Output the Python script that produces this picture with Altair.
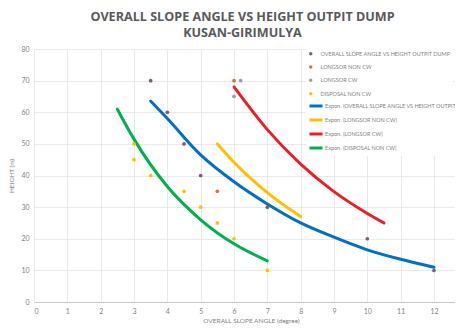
import altair as alt
import pandas as pd

# ---- scatter series ----
s_overall = "OVERALL SLOPE ANGLE VS HEIGHT OUTPIT DUMP"
s_lnc = "LONGSOR NON CW"
s_lcw = "LONGSOR CW"
s_disp = "DISPOSAL NON CW"
point_series = [s_overall, s_lnc, s_lcw, s_disp]
point_colors = ["#7D5A80", "#E0713A", "#A39AAE", "#FFC000"]

x_overall = [3.5, 4, 4.5, 5, 7, 10, 12]
y_overall = [70, 60, 50, 40, 30, 20, 10]
x_lnc = [6, 5.5]
y_lnc = [70, 35]
x_lcw = [6.2, 6]
y_lcw = [70, 65]
x_disp = [3, 3, 3.5, 4.5, 5, 5.5, 6, 7]
y_disp = [50, 45, 40, 35, 30, 25, 20, 10]

# ---- exponential trendlines ----
t_overall = "Expon. (OVERALL SLOPE ANGLE VS HEIGHT OUTPIT DUMP)"
t_lnc = "Expon. (LONGSOR NON CW)"
t_lcw = "Expon. (LONGSOR CW)"
t_disp = "Expon. (DISPOSAL NON CW)"
line_series = [t_overall, t_lnc, t_lcw, t_disp]
line_colors = ["#0070C0", "#FFC000", "#E8202A", "#00B050"]

tx_overall = [3.5, 4, 5, 6, 7, 8, 9, 10, 11, 12]
ty_overall = [63.5, 58, 46.5, 38, 31, 25, 20.5, 16.5, 13.5, 11]
tx_lnc = [5.5, 6, 7, 8]
ty_lnc = [50, 44.2, 34.6, 27]
tx_lcw = [6, 7, 8, 9, 10, 10.5]
ty_lcw = [68, 54.5, 43.6, 34.9, 28, 25]
tx_disp = [2.5, 3, 4, 5, 6, 7]
ty_disp = [61, 51.5, 36.5, 26, 18.4, 13]

x_ticks = list(range(0, 13))
y_ticks = list(range(0, 81, 10))

pts = pd.concat([
    pd.DataFrame({"x": x_overall, "y": y_overall, "s": s_overall}),
    pd.DataFrame({"x": x_lnc, "y": y_lnc, "s": s_lnc}),
    pd.DataFrame({"x": x_lcw, "y": y_lcw, "s": s_lcw}),
    pd.DataFrame({"x": x_disp, "y": y_disp, "s": s_disp}),
])
lines = pd.concat([
    pd.DataFrame({"x": tx_overall, "y": ty_overall, "s": t_overall}),
    pd.DataFrame({"x": tx_lnc, "y": ty_lnc, "s": t_lnc}),
    pd.DataFrame({"x": tx_lcw, "y": ty_lcw, "s": t_lcw}),
    pd.DataFrame({"x": tx_disp, "y": ty_disp, "s": t_disp}),
])

FONT = "Lato"
GREY = "#7F7F7F"

xenc = alt.X("x:Q", scale=alt.Scale(domain=[0, 12.63], nice=False),
             axis=alt.Axis(values=x_ticks, title="OVERALL SLOPE ANGLE (degree)",
                           titleX=217, titlePadding=3))
yenc = alt.Y("y:Q", scale=alt.Scale(domain=[0, 80], nice=False),
             axis=alt.Axis(values=y_ticks, title="HEIGHT (m)", titlePadding=6))

line_layer = alt.Chart(lines).mark_line(strokeWidth=3, strokeCap="round", interpolate="monotone").encode(
    x=xenc, y=yenc,
    stroke=alt.Stroke("s:N", scale=alt.Scale(domain=line_series, range=line_colors),
                      legend=alt.Legend(title=None, orient="none", legendX=272, legendY=47,
                                        symbolType="stroke", symbolSize=169, symbolStrokeWidth=3,
                                        labelFontSize=5.5, labelColor=GREY, labelFont=FONT,
                                        rowPadding=0, labelOffset=1, labelLimit=200,
                                        fillColor="white", padding=2)),
    detail="s:N",
    order=alt.Order("x:Q"),
)

point_layer = alt.Chart(pts).mark_circle(size=14, opacity=1).encode(
    x=xenc, y=yenc,
    fill=alt.Fill("s:N", scale=alt.Scale(domain=point_series, range=point_colors),
                  legend=alt.Legend(title=None, orient="none", legendX=272, legendY=0,
                                    symbolType="circle", symbolSize=12,
                                    labelFontSize=5.5, labelColor=GREY, labelFont=FONT,
                                    rowPadding=6.3, labelOffset=7, labelLimit=200,
                                    fillColor="white", padding=2)),
)

chart = alt.layer(line_layer, point_layer).resolve_scale(fill="independent", stroke="independent").properties(
    width=421, height=253,
    autosize=alt.AutoSizeParams(type="none"),
    padding={"left": 26, "top": 41, "right": 0, "bottom": 27},
    title=alt.TitleParams(text=["OVERALL SLOPE ANGLE VS HEIGHT OUTPIT DUMP", "KUSAN-GIRIMULYA"],
                          font="Open Sans", fontSize=12.6, fontWeight="bold", color="#595959",
                          anchor="middle", lineHeight=16.5, offset=5, dx=-2),
).configure_view(stroke=None).configure_axis(
    grid=True, gridColor="#E3E3E3", gridWidth=0.8, ticks=False,
    labelFont=FONT, labelFontSize=7, labelColor=GREY, labelPadding=5,
    titleFont=FONT, titleFontSize=6.5, titleColor=GREY, titleFontWeight="normal",
    domain=False,
).configure_axisX(domain=True, domainColor="#C8C8C8", domainWidth=1)

chart.save("out.html", embed_options={"renderer": "svg", "actions": False})
